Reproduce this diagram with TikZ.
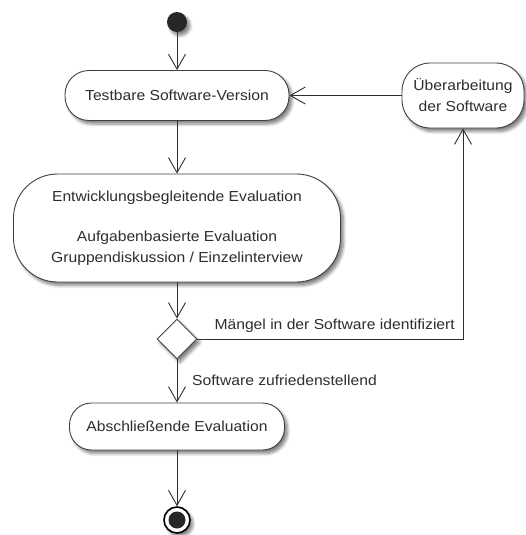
\documentclass[tikz,border=0pt]{standalone}
\usepackage{fontspec}
\setmainfont{Liberation Sans}[FakeStretch=1.08]
\usetikzlibrary{arrows.meta,shapes.geometric,shadows.blur}
\definecolor{ink}{HTML}{2E2E2E}
\definecolor{edge}{HTML}{404040}
\begin{document}
\begin{tikzpicture}[x=1pt,y=-1pt,
  font=\fontsize{14.5}{21}\selectfont,
  softshadow/.style={blur shadow={shadow xshift=3pt,shadow yshift=-3.5pt,
      shadow blur radius=3pt,shadow blur steps=6,shadow opacity=50}},
  action/.style={draw=edge,line width=0.9pt,fill=white,rounded corners=#1,
      text=ink,align=center,inner sep=0pt,softshadow},
  flow/.style={draw=ink,line width=0.9pt,
      -{Straight Barb[length=15pt,width=17pt,line width=0.9pt]}},
  lbl/.style={text=ink,inner sep=0pt}]
\useasboundingbox (0,0) rectangle (525,535);

% nodes of the activity
\node[circle,fill=black!85,minimum size=20pt,inner sep=0pt,softshadow] (start) at (177,22) {};
\node[action=24pt,minimum width=224pt,minimum height=50pt] (test) at (177,95.5)
  {Testbare Software-Version};
\node[action=28pt,minimum width=122pt,minimum height=65pt] (ueber) at (463,95.5)
  {Überarbeitung\\der Software};
\node[action=44pt,minimum width=327pt,minimum height=108pt] (entw) at (177,228)
  {Entwicklungsbegleitende Evaluation\\[19pt]Aufgabenbasierte Evaluation\\Gruppendiskussion / Einzelinterview};
\node[diamond,draw=edge,line width=0.9pt,fill=white,minimum width=40pt,minimum height=40pt,
  inner sep=0pt,softshadow] (dec) at (177,339) {};
\node[action=22pt,minimum width=215pt,minimum height=47pt] (absch) at (177,426.5)
  {Abschließende Evaluation};
\node[circle,draw=black,line width=1.6pt,fill=white,minimum size=26pt,inner sep=0pt,softshadow] (stop) at (177,520) {};
\fill[black!85] (stop.center) circle (8.5);

% control flow
\draw[flow] (start) -- (test);
\draw[flow] (test) -- (entw);
\draw[flow] (entw) -- (dec);
\draw[flow] (dec) -- (absch);
\draw[flow] (absch) -- (stop);
\draw[flow] (dec.east) -| (ueber.south);
\draw[flow] (ueber.west) -- (test.east);

% guard labels
\node[lbl,anchor=east] (gmaengel) at (455,326) {Mängel in der Software identifiziert};
\node[lbl,anchor=west] (gok) at (192,380) {Software zufriedenstellend};
\end{tikzpicture}
\end{document}
